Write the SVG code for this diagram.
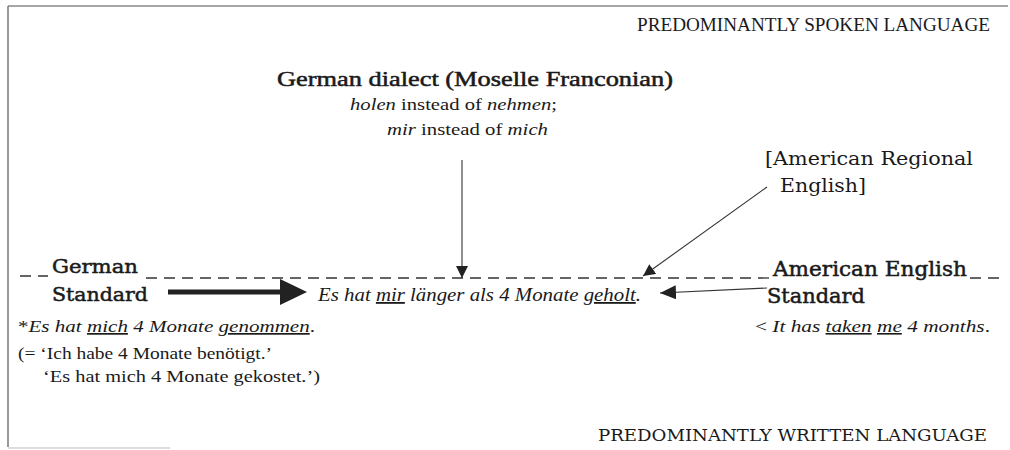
<svg xmlns="http://www.w3.org/2000/svg" width="1010" height="450" viewBox="0 0 1010 450">
<defs>
<style>
.t{font-family:"Liberation Serif","Times New Roman",serif;fill:#1a1a1a}
.w{font-family:"DejaVu Serif","Liberation Serif",serif;fill:#1a1a1a}
.h{stroke:#1a1a1a;stroke-width:0.5}
.i{font-style:italic}
.u{text-decoration:underline}
.dash{stroke:#333;stroke-width:1.3;stroke-dasharray:11 7;fill:none}
.thin{stroke:#333;stroke-width:1.1;fill:none}
</style>
<marker id="ah" viewBox="0 0 12 12" refX="12" refY="6" markerWidth="12" markerHeight="12" markerUnits="userSpaceOnUse" orient="auto">
<path d="M0,0 L12,6 L0,12 Z" fill="#222"/>
</marker>
<marker id="ah2" viewBox="0 0 16 14" refX="16" refY="7" markerWidth="16" markerHeight="14" markerUnits="userSpaceOnUse" orient="auto">
<path d="M0,0 L16,7 L0,14 Z" fill="#222"/>
</marker>
</defs>
<rect width="1010" height="450" fill="#fff"/>
<g id="frame">
<line x1="8" y1="6" x2="1008" y2="6" stroke="#888" stroke-width="1.5"/>
<line x1="8" y1="6" x2="8" y2="447" stroke="#777" stroke-width="1.5"/>
<line x1="8" y1="448" x2="170" y2="448" stroke="#bbb" stroke-width="1"/>
</g>
<g id="spoken"><text class="t" x="637" y="31" font-size="19" textLength="353" lengthAdjust="spacingAndGlyphs">PREDOMINANTLY SPOKEN LANGUAGE</text></g>
<g id="written"><text class="w" x="598" y="441" font-size="16" textLength="389" lengthAdjust="spacingAndGlyphs">PREDOMINANTLY WRITTEN LANGUAGE</text></g>
<g id="dialect">
<text class="t h" x="277" y="86" font-size="21" textLength="396" lengthAdjust="spacingAndGlyphs">German dialect (Moselle Franconian)</text>
<text class="t" x="350" y="110" font-size="17" textLength="207" lengthAdjust="spacingAndGlyphs"><tspan class="i">holen</tspan> instead of <tspan class="i">nehmen</tspan>;</text>
<text class="t" x="387" y="135" font-size="17" textLength="161" lengthAdjust="spacingAndGlyphs"><tspan class="i">mir</tspan> instead of <tspan class="i">mich</tspan></text>
</g>
<g id="regional">
<text class="w" x="765" y="165" font-size="18" textLength="208" lengthAdjust="spacingAndGlyphs">[American Regional</text>
<text class="w" x="780" y="192" font-size="18" textLength="86" lengthAdjust="spacingAndGlyphs">English]</text>
</g>
<g id="german-standard">
<text class="w h" x="52" y="273" font-size="19" textLength="86" lengthAdjust="spacingAndGlyphs">German</text>
<text class="w h" x="52" y="301" font-size="19" textLength="96" lengthAdjust="spacingAndGlyphs">Standard</text>
<text class="t" x="18" y="332" font-size="17" textLength="297" lengthAdjust="spacingAndGlyphs">*<tspan class="i">Es hat <tspan class="u">mich</tspan> 4 Monate <tspan class="u">genommen</tspan></tspan>.</text>
<text class="t" x="18" y="359" font-size="17" textLength="254" lengthAdjust="spacingAndGlyphs">(= ‘Ich habe 4 Monate benötigt.’</text>
<text class="t" x="43" y="382" font-size="17" textLength="277" lengthAdjust="spacingAndGlyphs">‘Es hat mich 4 Monate gekostet.’)</text>
</g>
<g id="american-standard">
<text class="w h" x="773" y="276" font-size="20" textLength="194" lengthAdjust="spacingAndGlyphs">American English</text>
<text class="w h" x="767" y="303" font-size="20" textLength="98" lengthAdjust="spacingAndGlyphs">Standard</text>
<text class="t" x="755" y="332" font-size="16" textLength="235" lengthAdjust="spacingAndGlyphs">&lt; <tspan class="i">It has <tspan class="u">taken</tspan> <tspan class="u">me</tspan> 4 months</tspan>.</text>
</g>
<g id="result">
<text class="t i" x="318" y="301" font-size="18" textLength="323" lengthAdjust="spacingAndGlyphs">Es hat <tspan class="u">mir</tspan> länger als 4 Monate <tspan class="u">geholt</tspan>.</text>
</g>
<g id="connectors">
<line class="dash" x1="20" y1="276" x2="48" y2="276"/>
<line class="dash" x1="146" y1="278" x2="770" y2="278"/>
<line class="dash" x1="970" y1="278" x2="1000" y2="278"/>
<line class="thin" x1="462" y1="160" x2="462" y2="278" marker-end="url(#ah)"/>
<line class="thin" x1="767" y1="187" x2="643" y2="276" stroke-width="0.8" marker-end="url(#ah)"/>
<line x1="168" y1="292" x2="282" y2="292" stroke="#222" stroke-width="5"/>
<path d="M280,279 L307,292 L280,305 Z" fill="#222"/>
<line class="thin" x1="767" y1="288" x2="660" y2="293" marker-end="url(#ah2)"/>
</g>
</svg>
